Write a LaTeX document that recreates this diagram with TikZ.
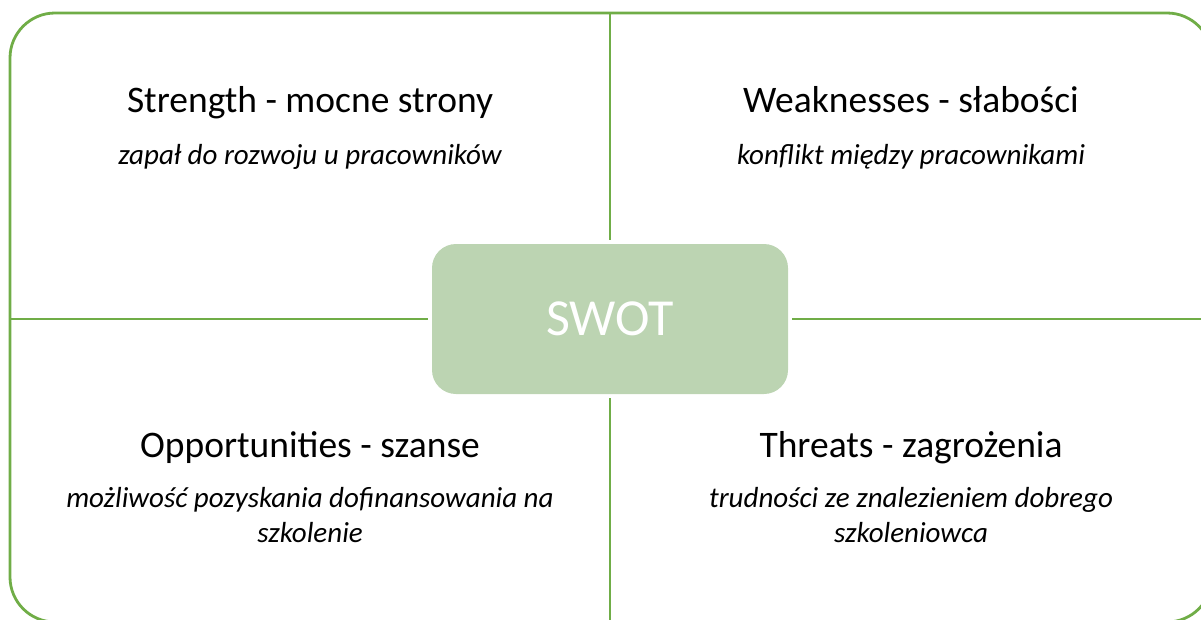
\documentclass[tikz,border=0pt]{standalone}
\usepackage{fontspec}
\setmainfont{Carlito}
\definecolor{swotgreen}{RGB}{112,173,71}
\definecolor{swotfill}{RGB}{188,212,178}
\tikzset{
  frame/.style={draw=swotgreen, line width=2.8pt},
  core/.style={fill=swotfill, rounded corners=24pt, inner sep=0pt,
    minimum width=356pt, minimum height=150pt, text=white,
    font=\fontsize{52}{60}\selectfont},
  title/.style={anchor=base, font=\fontsize{37.5}{45}\selectfont},
  note/.style={anchor=base, align=center, font=\itshape\fontsize{29}{35}\selectfont},
}
\begin{document}
\begin{tikzpicture}[x=1pt,y=-1pt]
      \useasboundingbox (0,0) rectangle (1201,619);
      \clip (0,0) rectangle (1201,619);
      \draw[frame, rounded corners=45pt] (10,13) rectangle (1212,622);
      \draw
        (610,319) node[core] (swot){SWOT}
        (610,13) coordinate (top)
        (610,622) coordinate (bottom)
        (10,319) coordinate (left)
        (1212,319) coordinate (right);
      \draw
        (310,112) node[title] (strength){Strength - mocne strony}
        (310,164) node[note] (strengthtxt){zapał do rozwoju u pracowników}
        (911,112) node[title] (weakness){Weaknesses - słabości}
        (911,164) node[note] (weaknesstxt){konflikt między pracownikami}
        (310,457) node[title] (opportunity){Opportunities - szanse}
        (310,542) node[note] (opportunitytxt){możliwość pozyskania dofinansowania na\\szkolenie}
        (911,457) node[title] (threat){Threats - zagrożenia}
        (911,542) node[note] (threattxt){trudności ze znalezieniem dobrego\\szkoleniowca};
      \begin{scope}[frame, shorten >=4pt]
        \draw (top) to (swot.north);
        \draw (bottom) to (swot.south);
        \draw (left) to (swot.west);
        \draw (right) to (swot.east);
      \end{scope}
    \end{tikzpicture}
\end{document}
